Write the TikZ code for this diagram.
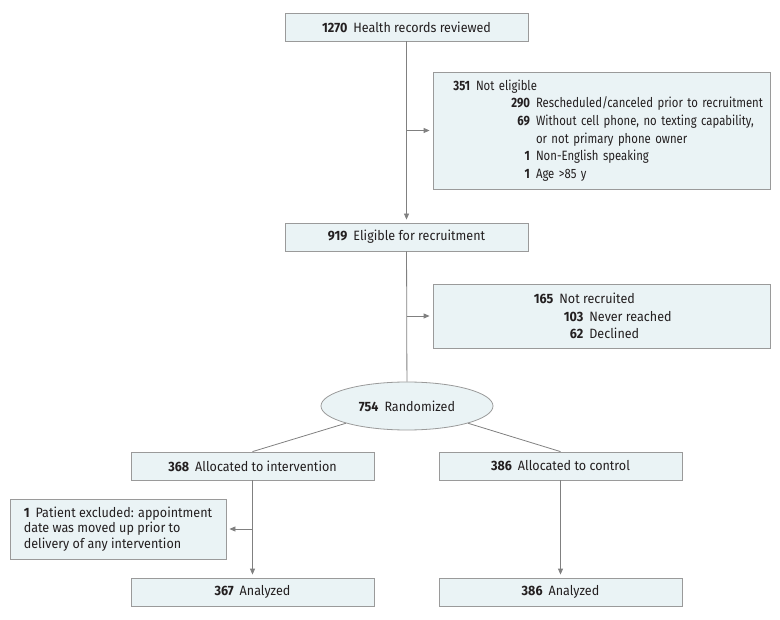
\documentclass[tikz,border=0pt]{standalone}
\usepackage{fontspec}
\setmainfont[FakeStretch=0.93]{Fira Sans}
\newfontfamily\tightfont[FakeStretch=0.84]{Fira Sans}
\usetikzlibrary{shapes.geometric,arrows.meta}
\definecolor{boxfill}{HTML}{EAF3F5}
\definecolor{boxline}{HTML}{9A9A9A}
\definecolor{flowline}{HTML}{808080}
\definecolor{inkblack}{HTML}{231F20}
\newcommand{\cnt}[2]{\makebox[#1][r]{\textbf{#2}}\hspace{6pt}}

\begin{document}
\begin{tikzpicture}[x=1pt,y=-1pt,
  box/.style={draw=boxline,fill=boxfill,line width=0.8pt,minimum width=243pt,minimum height=28pt,inner sep=0pt,text=inkblack,font=\fontsize{13.5}{17.5}\selectfont},
  flow/.style={draw=flowline,line width=0.8pt},
  arr/.style={flow,-{Triangle[length=6pt,width=5pt]},shorten >=3pt}]
  \useasboundingbox (0,0) rectangle (780,620);
  \node[box] (records) at (406.5,27) {\textbf{1270}\hspace{6pt}Health records reviewed};
  \node[box,minimum width=337pt,minimum height=117pt,text width=323pt,inner xsep=7pt,align=left,font=\tightfont\fontsize{13.5}{17.6}\selectfont] (noteligible) at (601.5,130.5) {\cnt{30pt}{351}Not eligible\\
    \cnt{90pt}{290}Rescheduled/canceled prior to recruitment\\
    \cnt{90pt}{69}Without cell phone, no texting capability,\\
    \hspace{96pt}or not primary phone owner\\
    \cnt{90pt}{1}Non-English speaking\\
    \cnt{90pt}{1}Age >85 y};
  \node[box] (eligible) at (406.5,237) {\textbf{919}\hspace{6pt}Eligible for recruitment};
  \node[box,minimum width=337pt,minimum height=64pt,align=left] (notrecruited) at (601.5,316) {\cnt{22pt}{165}Not recruited\\
    \cnt{52pt}{103}Never reached\\
    \cnt{52pt}{62}Declined};
  \node[box,ellipse,minimum width=172pt,minimum height=48pt] (randomized) at (407,406) {\textbf{754}\hspace{6pt}Randomized};
  \node[box] (allocint) at (252.5,466) {\textbf{368}\hspace{6pt}Allocated to intervention};
  \node[box] (allocctl) at (560.5,466) {\textbf{386}\hspace{6pt}Allocated to control};
  \node[box,minimum width=216pt,minimum height=60pt,align=left,font=\fontsize{13.5}{15.5}\selectfont] (excluded) at (118,529) {\textbf{1}\hspace{6pt}Patient excluded: appointment\\
    date was moved up prior to\\
    delivery of any intervention};
  \node[box] (analint) at (252.5,592) {\textbf{367}\hspace{6pt}Analyzed};
  \node[box] (analctl) at (560.5,592) {\textbf{386}\hspace{6pt}Analyzed};

  \draw[arr] (records) -- (eligible);
  \draw[arr] (records.south |- noteligible.west) -- (noteligible.west);
  \draw[flow] (eligible) -- (randomized);
  \draw[arr] (eligible.south |- notrecruited.west) -- (notrecruited.west);
  \draw[flow] (randomized.south west) -- (allocint.north);
  \draw[flow] (randomized.south east) -- (allocctl.north);
  \draw[arr] (allocint) -- (analint);
  \draw[arr] (allocint.south |- excluded.east) -- (excluded.east);
  \draw[arr] (allocctl) -- (analctl);
\end{tikzpicture}
\end{document}
